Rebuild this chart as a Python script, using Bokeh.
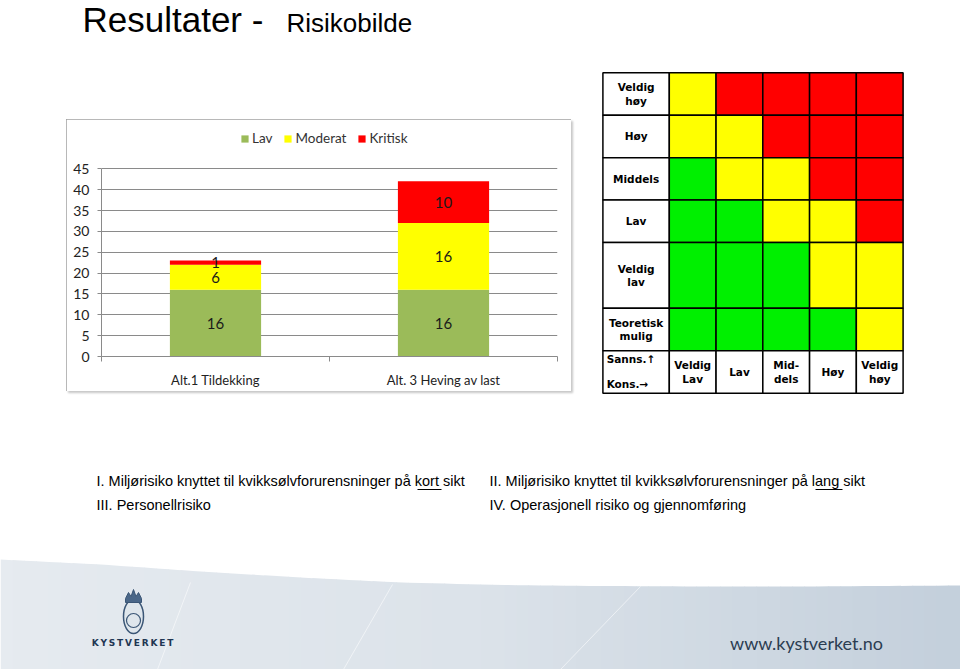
import numpy as np
from bokeh.plotting import figure
from bokeh.layouts import column, row, Spacer
from bokeh.models import Range1d, FixedTicker, Legend, LegendItem
from bokeh.core.properties import value
from bokeh.embed import file_html
from bokeh.resources import INLINE

# ---------------- data ----------------
title_main = "Resultater -"
title_sub = "Risikobilde"

categories = ["Alt.1 Tildekking", "Alt. 3 Heving av last"]
series_names = ["Lav", "Moderat", "Kritisk"]
lav = [16, 16]
moderat = [6, 16]
kritisk = [1, 10]
series_colors = ["#9BBB59", "#FFFF00", "#FF0000"]
y_ticks = [0, 5, 10, 15, 20, 25, 30, 35, 40, 45]

sannsynlighet = ["Veldig\nhøy", "Høy", "Middels", "Lav", "Veldig\nlav", "Teoretisk\nmulig"]
konsekvens = ["Veldig\nLav", "Lav", "Mid-\ndels", "Høy", "Veldig\nhøy"]
risk_matrix = [
    ["M", "K", "K", "K", "K"],
    ["M", "M", "K", "K", "K"],
    ["L", "M", "M", "K", "K"],
    ["L", "L", "M", "M", "K"],
    ["L", "L", "L", "M", "M"],
    ["L", "L", "L", "L", "M"],
]
risk_colors = {"L": "#00F000", "M": "#FFFF00", "K": "#FF0000"}
axis_corner = ["Sanns.↑", "Kons.→"]

notes_left = ["I. Miljørisiko knyttet til kvikksølvforurensninger på kort sikt", "III. Personellrisiko"]
notes_right = ["II. Miljørisiko knyttet til kvikksølvforurensninger på lang sikt", "IV. Operasjonell risiko og gjennomføring"]
footer_org = "K\u2009Y\u2009S\u2009T\u2009V\u2009E\u2009R\u2009K\u2009E\u2009T"
footer_url = "www.kystverket.no"

W = 960

def blank(fig):
    fig.xaxis.visible = False
    fig.yaxis.visible = False
    fig.xgrid.visible = False
    fig.ygrid.visible = False
    fig.outline_line_color = None

# ---------------- title ----------------
pt = figure(width=W, height=65, x_range=Range1d(0, 960), y_range=Range1d(65, 0),
            output_backend="svg", toolbar_location=None, min_border=0)
blank(pt)
pt.text(x=[82], y=[19], text=[title_main], text_font=value("Liberation Sans"),
        text_font_size="35px", text_color="black", text_baseline="middle")
pt.text(x=[286], y=[22], text=[title_sub], text_font=value("Liberation Sans"),
        text_font_size="26px", text_color="black", text_baseline="middle")

# ---------------- bar chart ----------------
xpos = [i + 0.5 for i in range(len(categories))]
pb = figure(width=505, height=272, x_range=Range1d(0, len(categories)), y_range=Range1d(0, 54.9),
            output_backend="svg", toolbar_location=None,
            min_border_left=35, min_border_right=14, min_border_top=8, min_border_bottom=35)
pb.styles = {"outline": "1px solid #a0a0a0", "outline-offset": "-1px",
             "box-shadow": "2px 2px 2px #c8c8c8"}
pb.outline_line_color = None
pb.xgrid.visible = False
pb.ygrid.grid_line_color = "#8a8a8a"
pb.ygrid.grid_line_width = 1

stack = [lav, moderat, kritisk]
bottoms = [0] * len(categories)
items = []
lab_x, lab_y, lab_t = [], [], []
for name, vals, col in zip(series_names, stack, series_colors):
    tops = [b + v for b, v in zip(bottoms, vals)]
    r = pb.vbar(x=xpos, width=0.4, bottom=bottoms, top=tops, fill_color=col, line_color=None)
    items.append(LegendItem(label=name, renderers=[r]))
    for xi, b, v in zip(xpos, bottoms, vals):
        lab_x.append(xi)
        lab_y.append(b + v / 2)
        lab_t.append(str(v))
    bottoms = tops

pb.text(x=lab_x, y=lab_y, text=lab_t, text_font=value("Lato"), text_font_size="15px",
        text_color="#1a1a1a", text_align="center", text_baseline="middle")

legend = Legend(items=items, orientation="horizontal", location=(139, 210),
                label_text_font="Lato", label_text_font_size="13.5px", label_text_color="#333333",
                glyph_width=9, glyph_height=9, label_standoff=3, spacing=11, padding=0,
                margin=0, background_fill_alpha=0, border_line_color=None,
                label_height=14)
pb.add_layout(legend)

pb.xaxis.ticker = FixedTicker(ticks=xpos, minor_ticks=[0, 1, 2])
pb.xaxis.major_label_overrides = {x: c for x, c in zip(xpos, categories)}
pb.xaxis.major_tick_line_color = None
pb.xaxis.minor_tick_out = 5
pb.xaxis.minor_tick_in = 0
pb.xaxis.minor_tick_line_color = "#8a8a8a"
pb.xaxis.axis_line_color = "#8a8a8a"
pb.xaxis.major_label_text_font = "Lato"
pb.xaxis.major_label_text_font_size = "13px"
pb.xaxis.major_label_text_color = "#222222"
pb.xaxis.major_label_standoff = 9

pb.yaxis.ticker = FixedTicker(ticks=y_ticks)
pb.yaxis.bounds = (0, 45)
pb.yaxis.major_tick_out = 4
pb.yaxis.major_tick_in = 0
pb.yaxis.minor_tick_line_color = None
pb.yaxis.major_tick_line_color = "#8a8a8a"
pb.yaxis.axis_line_color = "#8a8a8a"
pb.yaxis.major_label_text_font = "Lato"
pb.yaxis.major_label_text_font_size = "14px"
pb.yaxis.major_label_text_color = "#222222"
pb.yaxis.major_label_standoff = 8

# ---------------- risk matrix ----------------
label_w = 1.42
row_h = [1, 1, 1, 1, 1.55, 1, 1]
y_edges = np.concatenate([[0], np.cumsum(row_h)])
ncol = len(konsekvens)
total_w = label_w + ncol
pm = figure(width=303, height=323, x_range=Range1d(-0.03, total_w + 0.03),
            y_range=Range1d(y_edges[-1] + 0.03, -0.03),
            output_backend="svg", toolbar_location=None, min_border=0)
blank(pm)

ql, qr, qt, qb, qc = [], [], [], [], []
for r_i, rowvals in enumerate(risk_matrix):
    ql.append(0); qr.append(label_w); qt.append(y_edges[r_i]); qb.append(y_edges[r_i + 1]); qc.append("white")
    for c_i, lvl in enumerate(rowvals):
        ql.append(label_w + c_i); qr.append(label_w + c_i + 1)
        qt.append(y_edges[r_i]); qb.append(y_edges[r_i + 1]); qc.append(risk_colors[lvl])
last = len(risk_matrix)
ql.append(0); qr.append(label_w); qt.append(y_edges[last]); qb.append(y_edges[last + 1]); qc.append("white")
for c_i in range(ncol):
    ql.append(label_w + c_i); qr.append(label_w + c_i + 1)
    qt.append(y_edges[last]); qb.append(y_edges[last + 1]); qc.append("white")
pm.quad(left=ql, right=qr, top=qt, bottom=qb, fill_color=qc, line_color="black", line_width=1.5)

mfont = value("DejaVu Sans")
pm.text(x=[label_w / 2] * len(sannsynlighet),
        y=[(y_edges[i] + y_edges[i + 1]) / 2 for i in range(len(sannsynlighet))],
        text=sannsynlighet, text_font=mfont, text_font_style="bold", text_font_size="10.5px",
        text_align="center", text_baseline="middle", text_color="black", text_line_height=1.15)
pm.text(x=[label_w + c + 0.5 for c in range(ncol)], y=[(y_edges[last] + y_edges[last + 1]) / 2] * ncol,
        text=konsekvens, text_font=mfont, text_font_style="bold", text_font_size="10.5px",
        text_align="center", text_baseline="middle", text_color="black", text_line_height=1.15)
pm.text(x=[0.08, 0.08], y=[y_edges[last] + 0.2, y_edges[last] + 0.78], text=axis_corner,
        text_font=mfont, text_font_style="bold", text_font_size="10.5px",
        text_align="left", text_baseline="middle", text_color="black")

# ---------------- notes + footer ----------------
pf = figure(width=W, height=274, x_range=Range1d(0, 960), y_range=Range1d(669, 395),
            output_backend="svg", toolbar_location=None, min_border=0)
blank(pf)

curve_x = [0, 100, 200, 300, 400, 500, 600, 700, 800, 960]
curve_y = [559, 564, 571, 577, 582, 584.5, 585.5, 586, 586, 585]
c_left = np.array([230, 235, 240])
c_mid = np.array([220, 227, 234])
c_right = np.array([196, 208, 220])
n = 80
edges = np.linspace(0, 960, n + 1)
xs, ys, cols = [], [], []
for i in range(n):
    a, b = edges[i], edges[i + 1] + 0.6
    t = i / (n - 1)
    c = c_left + (c_mid - c_left) * (t / 0.5) if t < 0.5 else c_mid + (c_right - c_mid) * ((t - 0.5) / 0.5)
    ya, yb = np.interp(a, curve_x, curve_y), np.interp(b, curve_x, curve_y)
    xs.append([a, b, b, a]); ys.append([ya, yb, 669, 669])
    cols.append("#%02x%02x%02x" % tuple(int(v) for v in c))
pf.patches(xs, ys, fill_color=cols, line_color=None)
pf.segment(x0=[157, 343, 560], y0=[669, 669, 669], x1=[190, 392, 640], y1=[582, 584, 586],
           line_color="white", line_alpha=0.55, line_width=1)

pf.ellipse(x=[133], y=[616], width=[20], height=[34], fill_color="#dfe6ec", line_color="#3b5676", line_width=1.5)
pf.circle(x=[133], y=[620], radius=7, fill_color=None, line_color="#3b5676", line_width=1.2)
pf.patch(x=[125, 128, 130.5, 133, 135.5, 138, 141, 141, 125], y=[598, 592, 596, 589, 596, 592, 598, 602, 602],
         fill_color="#4a6688", line_color="#3b5676")
pf.text(x=[132], y=[642], text=[footer_org], text_font=value("DejaVu Sans"), text_font_style="bold",
        text_font_size="9px", text_color="#1f3652", text_align="center", text_baseline="middle")
pf.text(x=[806], y=[642], text=[footer_url], text_font=value("Lato"),
        text_font_size="18px", text_color="#2b3d52", text_align="center", text_baseline="middle")

nfont = value("Liberation Sans")
pf.text(x=[96, 96], y=[480, 504], text=notes_left, text_font=nfont, text_font_size="14.5px",
        text_color="black", text_baseline="middle")
pf.text(x=[489, 489], y=[480, 504], text=notes_right, text_font=nfont, text_font_size="14.5px",
        text_color="black", text_baseline="middle")
pf.segment(x0=[417, 815], y0=[489, 489], x1=[441, 842], y1=[489, 489], line_color="black", line_width=1)

bar_col = column(Spacer(width=505, height=54), pb, Spacer(width=505, height=4), spacing=0)
mat_col = column(Spacer(width=303, height=6), pm, Spacer(width=303, height=1), spacing=0)
mid = row(Spacer(width=66, height=330), bar_col, Spacer(width=30, height=330), mat_col,
          Spacer(width=56, height=330), spacing=0)
layout = column(pt, mid, pf, spacing=0)
open("out.html", "w").write(file_html(layout, INLINE))
